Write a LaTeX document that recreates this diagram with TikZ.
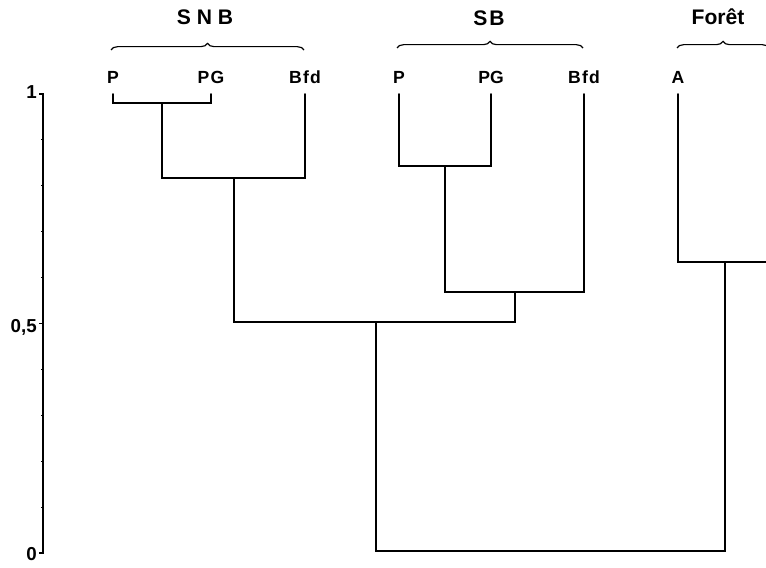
\documentclass[tikz,border=0pt]{standalone}
\usepackage{fontspec}
\setmainfont{Liberation Sans}
\usetikzlibrary{decorations.pathreplacing,calc}

\begin{document}
\begin{tikzpicture}[x=0.03cm, y=-0.03cm,
    every node/.style={inner sep=0pt, font=\fontsize{15}{17}\selectfont\bfseries},
    grp/.style={font=\fontsize{18}{20}\selectfont\bfseries},
    tree/.style={line width=1.4pt, line cap=round},
    brace/.style={decorate, decoration={brace, amplitude=0.2cm}, line width=1pt},
    axislabel/.style={anchor=east, font=\fontsize{16}{18}\selectfont\bfseries}
]
    \useasboundingbox (0,0) rectangle (766,567);

    % Groups
    \node[grp] (snb) at (205,17) {S N B};
    \node[grp] (sb) at (489,18) {S\kern1.5pt B};
    \node[grp] (foret) at (718,17) {Forêt};
    \draw[brace] (111,50) -- (304,50);
    \draw[brace] (397,48) -- (583,48);
    \draw[brace] (677,48) -- (769,48);

    % Leaves
    \node (snbP) at (113,77) {P};
    \node (snbPG) at (211,77) {P\kern1pt G};
    \node (snbBfd) at (305,77) {B\kern1pt f\kern1pt d};
    \node (sbP) at (399,77) {P};
    \node (sbPG) at (491,77) {PG};
    \node (sbBfd) at (584,77) {B\kern1pt f\kern1pt d};
    \node (fA) at (678,77) {A};
    \coordinate (fB) at (772,94);
    \coordinate (top) at (0,94);

    % Merge points
    \coordinate (m1) at (162,103);
    \coordinate (m2) at (234,178);
    \coordinate (m3) at (445,166);
    \coordinate (m4) at (515,292);
    \coordinate (m5) at (376,322);
    \coordinate (m6) at (725,262);
    \coordinate (m7) at (550,551);

    % Tree
    \draw[tree] (snbP |- top) |- (m1) -| (snbPG |- top);
    \draw[tree] (m1) |- (m2) -| (snbBfd |- top);
    \draw[tree] (sbP |- top) |- (m3) -| (sbPG |- top);
    \draw[tree] (m3) |- (m4) -| (sbBfd |- top);
    \draw[tree] (m2) |- (m5) -| (m4);
    \draw[tree] (fA |- top) |- (m6) -| (fB);
    \draw[tree] (m5) |- (m7) -| (m6);

    % Scale
    \coordinate (ax0) at (43,553);
    \coordinate (ax1) at (43,94);
    \draw[line width=1.3pt] ([xshift=-0.12cm]ax1) -- (ax1) -- (ax0) -- ([xshift=-0.12cm]ax0);
    \foreach \v in {1,...,9}
        \draw[line width=0.8pt] ($(ax0)!\v/10!(ax1)$) -- ++(-2.5,0);
    \draw[line width=1.3pt] ($(ax0)!0.5!(ax1)$) -- ++(-4,0);
    \node[axislabel] (one) at (37,92) {1};
    \node[axislabel] (half) at (37,327) {0,5};
    \node[axislabel] (zero) at (37,554) {0};

\end{tikzpicture}
\end{document}
